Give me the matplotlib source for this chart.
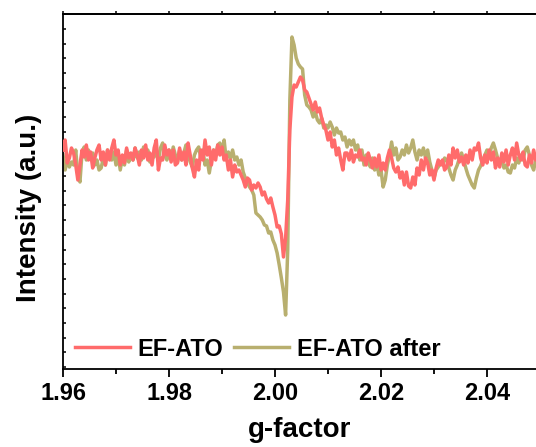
import matplotlib
matplotlib.use("Agg")
import matplotlib.pyplot as plt
from matplotlib.ticker import MultipleLocator
from matplotlib.lines import Line2D

plt.rcParams["font.family"] = ["Liberation Sans", "DejaVu Sans"]
plt.rcParams["font.weight"] = "bold"

# g-factor sweep shared by both spectra
g_factor = [
    1.9600, 1.9604, 1.9608, 1.9612, 1.9616, 1.9620, 1.9624, 1.9628, 1.9632, 1.9636,
    1.9640, 1.9644, 1.9648, 1.9652, 1.9656, 1.9660, 1.9664, 1.9668, 1.9672, 1.9676,
    1.9680, 1.9684, 1.9688, 1.9692, 1.9696, 1.9700, 1.9704, 1.9708, 1.9712, 1.9716,
    1.9720, 1.9724, 1.9728, 1.9732, 1.9736, 1.9740, 1.9744, 1.9748, 1.9752, 1.9756,
    1.9760, 1.9764, 1.9768, 1.9772, 1.9776, 1.9780, 1.9784, 1.9788, 1.9792, 1.9796,
    1.9800, 1.9804, 1.9808, 1.9812, 1.9816, 1.9820, 1.9824, 1.9828, 1.9832, 1.9836,
    1.9840, 1.9844, 1.9848, 1.9852, 1.9856, 1.9860, 1.9864, 1.9868, 1.9872, 1.9876,
    1.9880, 1.9884, 1.9888, 1.9892, 1.9896, 1.9900, 1.9904, 1.9908, 1.9912, 1.9916,
    1.9920, 1.9924, 1.9928, 1.9932, 1.9936, 1.9940, 1.9944, 1.9948, 1.9952, 1.9956,
    1.9960, 1.9964, 1.9968, 1.9972, 1.9976, 1.9980, 1.9984, 1.9988, 1.9992, 1.9996,
    2.0000, 2.0004, 2.0008, 2.0012, 2.0016, 2.0020, 2.0024, 2.0028, 2.0032, 2.0036,
    2.0040, 2.0044, 2.0048, 2.0052, 2.0056, 2.0060, 2.0064, 2.0068, 2.0072, 2.0076,
    2.0080, 2.0084, 2.0088, 2.0092, 2.0096, 2.0100, 2.0104, 2.0108, 2.0112, 2.0116,
    2.0120, 2.0124, 2.0128, 2.0132, 2.0136, 2.0140, 2.0144, 2.0148, 2.0152, 2.0156,
    2.0160, 2.0164, 2.0168, 2.0172, 2.0176, 2.0180, 2.0184, 2.0188, 2.0192, 2.0196,
    2.0200, 2.0204, 2.0208, 2.0212, 2.0216, 2.0220, 2.0224, 2.0228, 2.0232, 2.0236,
    2.0240, 2.0244, 2.0248, 2.0252, 2.0256, 2.0260, 2.0264, 2.0268, 2.0272, 2.0276,
    2.0280, 2.0284, 2.0288, 2.0292, 2.0296, 2.0300, 2.0304, 2.0308, 2.0312, 2.0316,
    2.0320, 2.0324, 2.0328, 2.0332, 2.0336, 2.0340, 2.0344, 2.0348, 2.0352, 2.0356,
    2.0360, 2.0364, 2.0368, 2.0372, 2.0376, 2.0380, 2.0384, 2.0388, 2.0392, 2.0396,
    2.0400, 2.0404, 2.0408, 2.0412, 2.0416, 2.0420, 2.0424, 2.0428, 2.0432, 2.0436,
    2.0440, 2.0444, 2.0448, 2.0452, 2.0456, 2.0460, 2.0464, 2.0468, 2.0472, 2.0476,
    2.0480, 2.0484, 2.0488, 2.0492, 2.0496, 2.0500,
]

# EPR derivative intensity (a.u.)
ef_ato = [
    5, 15, -8, -3, 7, 2, -10, -25, -10, 5,
    -2, 10, -5, 3, -13, -3, 5, 10, -5, 3,
    -10, 5, -5, 7, 15, 0, 5, -10, 0, -8,
    7, -3, 2, -5, 7, 0, -10, 5, -3, 10,
    -5, 2, -10, 7, 15, -15, -3, -5, 10, 0,
    5, -7, 5, -10, -8, 7, -5, 3, -10, 12,
    0, -13, -22, -5, -15, 5, -5, 15, 0, 8,
    -10, 5, -5, 10, 0, 8, -5, 0, -15, -5,
    -22, -10, -17, -15, -20, -25, -32, -23, -25, -35,
    -30, -33, -28, -32, -40, -37, -44, -48, -43, -52,
    -60, -72, -71, -79, -102, -83, -45, 25, 58, 70,
    68, 73, 78, 75, 65, 63, 57, 51, 45, 53,
    43, 47, 37, 30, 25, 15, 23, 8, 15, 0,
    7, -5, -15, 2, 2, -5, 5, -7, 0, -2,
    5, -5, -3, -10, 2, -5, -13, -3, -12, 0,
    -15, -8, -15, -3, 5, -3, -13, -17, -12, -23,
    -17, -30, -17, -31, -33, -22, -30, -13, -20, -5,
    -15, -3, -8, -20, -15, -25, -13, -5, -10, -5,
    -15, -12, 0, -10, 7, -3, 5, -7, -2, -10,
    0, -8, 5, -5, 7, 5, 12, -3, -10, 0,
    -8, 5, -5, 3, -13, -3, -12, 2, -7, 5,
    -10, 0, 7, -5, 12, 0, -5, 3, -10, -12,
    0, -8, 5, -5, -3, -5,
]

ef_ato_after = [
    0, -15, -5, -12, -7, -10, 5, -20, -27, 3,
    8, -5, 5, -3, 2, -10, -5, -15, -13, -3,
    -10, 5, -3, -5, 3, -10, 0, -15, -3, -10,
    5, -7, 0, -5, 7, -3, 3, -5, 8, 0,
    5, -7, 0, -2, 5, -5, 7, 12, 0, -5,
    5, -3, 8, 0, -7, 5, -5, 2, 10, 0,
    -7, -12, 0, 5, 8, -3, 5, -10, -5, -18,
    -5, 5, 0, 10, 12, 3, 15, -5, 3, -3,
    5, -5, -2, -10, -5, -17, -23, -28, -32, -35,
    -40, -58, -60, -62, -65, -70, -71, -78, -77, -85,
    -90, -98, -110, -123, -137, -160, -95, 55, 118, 110,
    97, 91, 88, 86, 60, 50, 48, 45, 38, 43,
    35, 32, 37, 27, 30, 27, 33, 28, 20, 27,
    22, 23, 15, 18, 8, 15, 10, 15, 5, 10,
    -5, 5, -10, 0, -7, -12, -3, -15, -8, -20,
    -15, -32, -25, -10, 0, 13, 0, 7, -5, -2,
    5, 0, 10, 2, 7, 15, 3, -5, 5, 0,
    7, -3, 5, -7, -15, -23, -15, -12, -7, -10,
    -3, -5, -13, -20, -25, -15, -10, -3, 2, -5,
    -13, -20, -25, -30, -33, -23, -15, -11, -5, 0,
    5, 0, 7, 12, 5, -3, -8, -5, -13, -10,
    -17, -18, -10, -13, -3, -8, 0, -5, 5, 8,
    0, -10, -15, -5, -10, -7,
]

series_labels = ["EF-ATO", "EF-ATO after"]
series_colors = ["#FF6B6B", "#B8AF6F"]

W, H = 536, 447
fig = plt.figure(figsize=(W / 100, H / 100), dpi=100)
ax = fig.add_axes([63 / W, 78 / H, 477 / W, 355 / H])

lw = 2.5
ax.plot(g_factor, ef_ato_after, color=series_colors[1], lw=lw, zorder=2)
ax.plot(g_factor, ef_ato, color=series_colors[0], lw=lw, zorder=3)

ax.set_xlim(1.96, 2.05)
ax.set_ylim(-214, 141)

ax.xaxis.set_major_locator(MultipleLocator(0.02))
ax.xaxis.set_minor_locator(MultipleLocator(0.01))
ax.xaxis.set_major_formatter(matplotlib.ticker.FormatStrFormatter("%.2f"))
ax.yaxis.set_major_locator(MultipleLocator(14.7, offset=8.4))

for side in ["left", "bottom", "top"]:
    ax.spines[side].set_linewidth(1.3)
ax.spines["right"].set_visible(False)

ax.tick_params(axis="x", which="major", direction="out", length=6, width=1.3,
               labelsize=17, pad=3)
ax.tick_params(axis="x", which="minor", direction="out", length=3.5, width=1.3)
ax.tick_params(axis="y", which="major", direction="in", length=2.5, width=1.1,
               labelleft=False)
ax.tick_params(axis="y", which="minor", left=False)
for lab in ax.get_xticklabels():
    lab.set_fontweight("bold")

top = ax.secondary_xaxis("top")
top.xaxis.set_major_locator(MultipleLocator(0.01))
top.tick_params(direction="out", length=2, width=1.1, labeltop=False)
top.spines["top"].set_linewidth(1.3)

fig.text(300 / W, 1 - 437 / H, "g-factor", ha="center", va="baseline",
         fontsize=20, fontweight="bold")
fig.text(29.5 / W, 1 - 208 / H, "Intensity (a.u.)", ha="center", va="center",
         rotation=90, fontsize=20, fontweight="bold")

handles = [Line2D([], [], color=c, lw=lw) for c in series_colors]
fig.legend(handles, series_labels, loc="center left",
           bbox_to_anchor=(75 / W, 1 - 349 / H), ncol=2, frameon=False,
           borderpad=0, borderaxespad=0, handlelength=2.35, handletextpad=0.3,
           columnspacing=0.45, prop={"size": 17, "weight": "bold"})

fig.savefig("out.png", dpi=100)
